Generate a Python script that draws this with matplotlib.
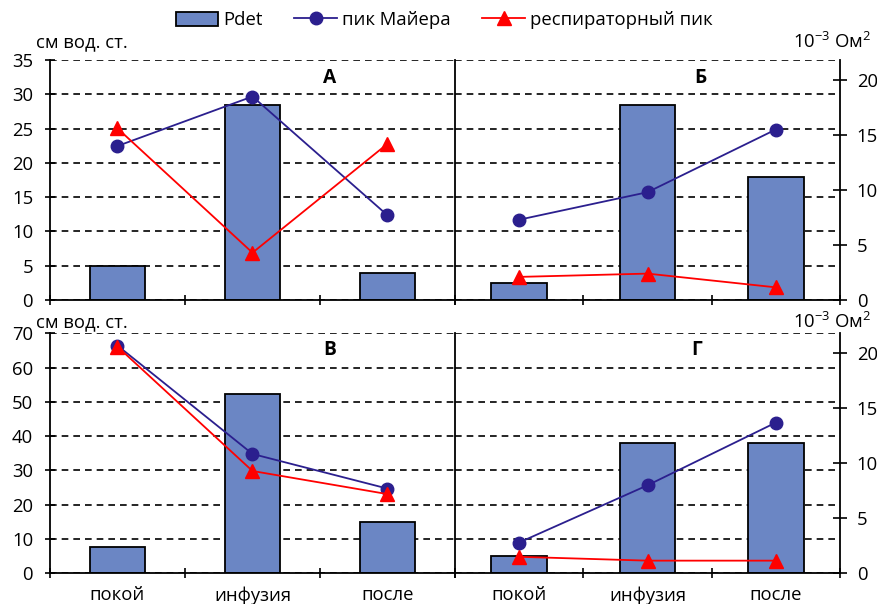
import matplotlib
matplotlib.use("Agg")
import matplotlib.pyplot as plt
from matplotlib.lines import Line2D
from matplotlib.patches import Patch
import numpy as np

plt.rcParams['font.family'] = ['Open Sans', 'DejaVu Sans']
plt.rcParams['mathtext.fontset'] = 'custom'
plt.rcParams['mathtext.rm'] = 'Open Sans'
plt.rcParams['mathtext.it'] = 'Open Sans'

categories = ["покой", "инфузия", "после"]
panel_labels = ["А", "Б", "В", "Г"]

# Pdet, cm H2O (left axis)
pdet_A = [5.0, 28.5, 4.0]
pdet_B = [2.5, 28.5, 17.9]
pdet_V = [7.8, 52.2, 14.9]
pdet_G = [5.05, 38.1, 38.1]

# peaks, 10^-3 Ohm^2 (right axis)
mayer_A = [14.0, 18.5, 7.7]
resp_A = [15.6, 4.3, 14.2]
mayer_B = [7.3, 9.8, 15.5]
resp_B = [2.1, 2.4, 1.15]
mayer_V = [20.7, 10.85, 7.7]
resp_V = [20.6, 9.3, 7.2]
mayer_G = [2.8, 8.0, 13.7]
resp_G = [1.5, 1.15, 1.15]

left_ticks_top = [0, 5, 10, 15, 20, 25, 30, 35]
left_ticks_bot = [0, 10, 20, 30, 40, 50, 60, 70]
right_ticks = [0, 5, 10, 15, 20]
right_max = 240 / 11

BAR_C = '#6B86C4'
MAY_C = '#2B1F8E'
RESP_C = '#FF0000'
FS = 13.3

W, H = 878, 604
fig = plt.figure(figsize=(W / 100, H / 100), dpi=100)

def rect(x0, x1, ytop, ybot):
    return [x0 / W, 1 - ybot / H, (x1 - x0) / W, (ybot - ytop) / H]

panels = [
    (rect(50, 455, 60, 300), pdet_A, mayer_A, resp_A, left_ticks_top, 'L', False, 0.41),
    (rect(455, 840, 60, 300), pdet_B, mayer_B, resp_B, left_ticks_top, 'R', False, 0.435),
    (rect(50, 455, 333.3, 573.3), pdet_V, mayer_V, resp_V, left_ticks_bot, 'L', True, 0.41),
    (rect(455, 840, 333.3, 573.3), pdet_G, mayer_G, resp_G, left_ticks_bot, 'R', True, 0.435),
]

x = np.arange(len(categories))
for pos, pd, my, rs, lt, side, showx, bw in panels:
    ax = fig.add_axes(pos)
    ax.set_axisbelow(True)
    ax.bar(x, pd, width=bw, color=BAR_C, edgecolor='black', linewidth=1.3, zorder=2)
    ax.set_xlim(-0.5, 2.5)
    ax.set_ylim(lt[0], lt[-1])
    ax.set_yticks(lt)
    ax.yaxis.grid(True, color='black', linestyle=(0, (4, 3)), linewidth=1.2)
    ax.set_xticks([-0.5, 0.5, 1.5, 2.5])
    ax.set_xticklabels([])
    ax.tick_params(axis='x', direction='inout', length=7.2, width=1.2)
    ax.set_xticks(x, minor=True)
    if showx:
        ax.set_xticklabels(categories, minor=True, fontsize=FS)
    ax.tick_params(axis='x', which='minor', length=0, pad=9.5)
    for s in ['top', 'right']:
        ax.spines[s].set_visible(False)
    ax.spines['left'].set_linewidth(1.3)
    ax.spines['bottom'].set_linewidth(1.3)
    if side == 'L':
        ax.tick_params(axis='y', direction='inout', length=7.2, width=1.2, labelsize=FS, pad=8.5)
    else:
        ax.tick_params(axis='y', length=0, labelleft=False)
    ax2 = ax.twinx()
    ax2.set_ylim(0, right_max)
    ax2.plot(x, my, color=MAY_C, linewidth=1.3, marker='o', markersize=9, zorder=3)
    ax2.plot(x, rs, color=RESP_C, linewidth=1.3, marker='^', markersize=10, zorder=3)
    for s in ['top', 'left', 'bottom']:
        ax2.spines[s].set_visible(False)
    if side == 'R':
        ax2.set_yticks(right_ticks)
        ax2.spines['right'].set_linewidth(1.3)
        ax2.tick_params(axis='y', direction='inout', length=9.4, width=1.2, labelsize=FS, pad=7.3)
    else:
        ax2.spines['right'].set_visible(False)
        ax2.set_yticks([])

# panel letters
for lbl, px, py in [("А", 330, 78), ("Б", 700, 78), ("В", 330, 350), ("Г", 697, 350)]:
    fig.text(px / W, 1 - py / H, lbl, ha='center', va='center', fontsize=FS + 0.5, fontweight='bold')

# axis unit labels
for py in [42, 322]:
    fig.text(36 / W, 1 - py / H, "см вод. ст.", ha='left', va='center', fontsize=FS)
    fig.text(871 / W, 1 - py / H, r"10$^{-3}$ Ом$^{2}$", ha='right', va='center', fontsize=FS)

handles = [
    Patch(facecolor=BAR_C, edgecolor='black', linewidth=1.3),
    Line2D([0], [0], color=MAY_C, linewidth=1.3, marker='o', markersize=9),
    Line2D([0], [0], color=RESP_C, linewidth=1.3, marker='^', markersize=10),
]
fig.legend(handles, ["Pdet", "пик Майера", "респираторный пик"], loc='center',
           bbox_to_anchor=(0.506, 1 - 20 / H), ncol=3, frameon=False, fontsize=FS,
           handlelength=2.3, handleheight=0.8, columnspacing=1.7, handletextpad=0.3)

fig.savefig("out.png", dpi=100)
